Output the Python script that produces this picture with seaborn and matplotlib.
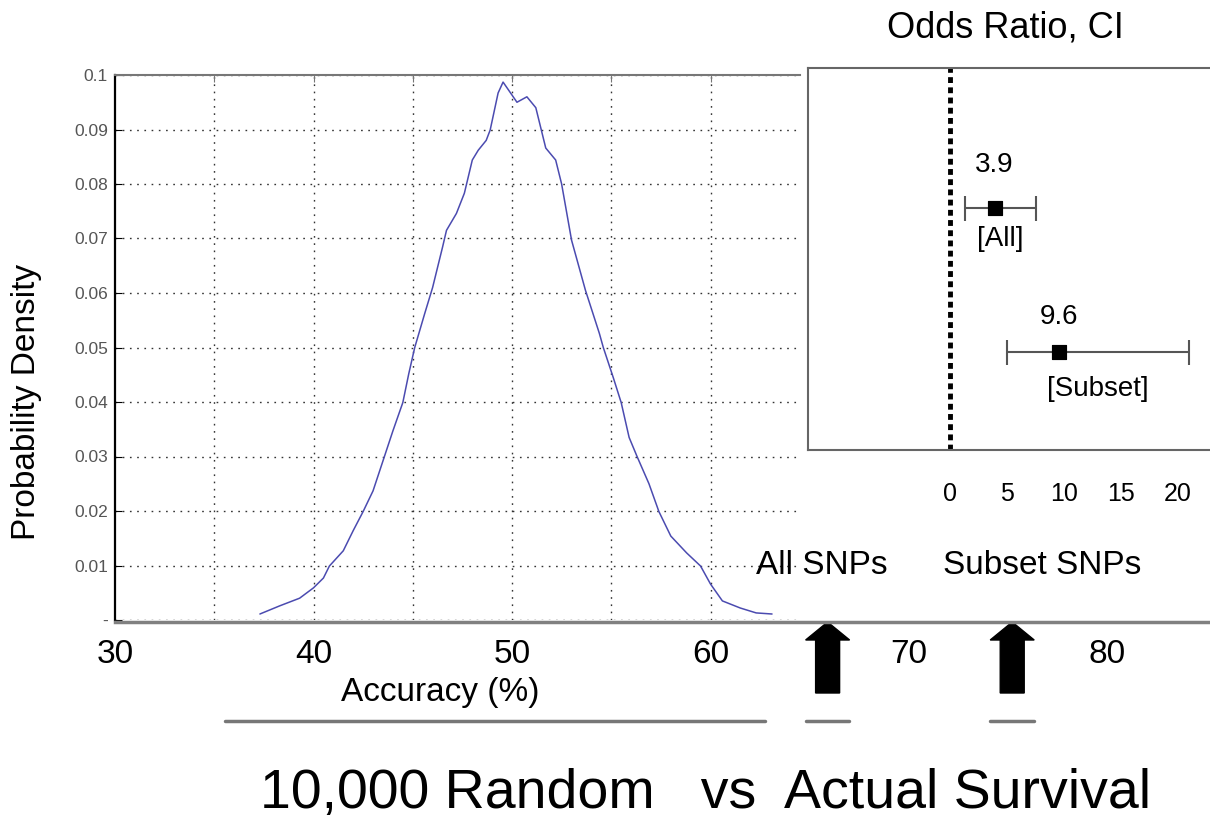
import numpy as np
import pandas as pd
import matplotlib
matplotlib.use("Agg")
import matplotlib.pyplot as plt
import matplotlib.transforms as mtransforms
from matplotlib.patches import FancyArrow
from matplotlib.lines import Line2D
import seaborn as sns

# density of accuracy over the 10,000 random runs
acc = [37.3, 38.3, 39.3, 40.0, 40.5, 40.8, 41.5, 42.0, 42.5, 43.0, 43.5, 44.0,
       44.5, 44.8, 45.1, 45.6, 46.0, 46.5, 46.7, 47.2, 47.6, 48.0, 48.3, 48.7,
       48.9, 49.3, 49.55, 50.25, 50.75, 51.2, 51.7, 52.2, 52.5, 53.0, 53.7, 54.4,
       54.6, 55.1, 55.5, 55.9, 56.3, 56.9, 57.4, 58.0, 58.8, 59.5, 60.0, 60.6,
       61.5, 62.3, 63.1]
dens = [0.0011, 0.0026, 0.0040, 0.0059, 0.0077, 0.0099, 0.0127, 0.0164, 0.0199,
        0.0237, 0.0292, 0.0347, 0.0399, 0.0452, 0.0500, 0.0562, 0.0610, 0.0684,
        0.0715, 0.0746, 0.0783, 0.0844, 0.0862, 0.0880, 0.0899, 0.0967, 0.0987,
        0.0950, 0.0960, 0.0940, 0.0866, 0.0844, 0.0800, 0.0697, 0.0605, 0.0526,
        0.0500, 0.0445, 0.0399, 0.0335, 0.0300, 0.0250, 0.0199, 0.0154, 0.0123,
        0.0099, 0.0066, 0.0035, 0.0022, 0.0013, 0.0011]

ytick_vals = [0, 0.01, 0.02, 0.03, 0.04, 0.05, 0.06, 0.07, 0.08, 0.09, 0.1]
ytick_labels = ['-', '0.01', '0.02', '0.03', '0.04', '0.05', '0.06', '0.07',
                '0.08', '0.09', '0.1']
grid_x = [35, 40, 45, 50, 55, 60]
bottom_ticks = [30, 40, 50, 60, 70, 80]

# accuracy of the actual survival models
snp_sets = ['All SNPs', 'Subset SNPs']
snp_acc = [65.9, 75.2]

# odds ratios with confidence intervals
or_groups = ['[All]', '[Subset]']
or_text = ['3.9', '9.6']
or_vals = [3.9, 9.6]
ci_low = [1.3, 5.0]
ci_high = [7.5, 21.0]
or_row = [0.633, 0.257]
or_ticks = [-10, -5, 0, 5, 10, 15, 20]
or_ticklabels = ['', '', '0', '5', '10', '15', '20']

sns.set_style("white")
plt.rcParams['font.family'] = ['Liberation Sans', 'DejaVu Sans']
plt.rcParams['text.color'] = 'black'
plt.rcParams['xtick.labelcolor'] = 'black'

W, H = 1210, 819
PX = 19.85  # pixels per accuracy unit
fig = plt.figure(figsize=(W / 100, H / 100), dpi=100)


def box(x0, y0, x1, y1):
    return [x0 / W, 1 - y1 / H, (x1 - x0) / W, (y1 - y0) / H]


# main density panel
ax = fig.add_axes(box(115, 75, 800, 620))
df = pd.DataFrame({'acc': acc, 'dens': dens})
sns.lineplot(data=df, x='acc', y='dens', ax=ax, color='#4b4bb0', lw=1.1)
ax.set_xlim(30, 30 + 685 / PX)
ax.set_ylim(0, 0.1)
ax.set_xticks(grid_x)
ax.set_yticks(ytick_vals)
ax.set_yticklabels(ytick_labels)
ax.grid(True, ls=(0, (1.2, 4)), color='#333333', lw=1)
ax.set_xlabel('')
ax.set_ylabel('')
for s in ['right', 'bottom']:
    ax.spines[s].set_visible(False)
ax.spines['left'].set_color('black')
ax.spines['left'].set_linewidth(1.6)
ax.spines['top'].set_color('#777777')
ax.spines['top'].set_linewidth(1.5)
ax.tick_params(axis='x', bottom=False, top=True, direction='in', length=5,
               labelbottom=False, color='#777777')
ax.tick_params(axis='y', left=True, direction='in', length=5, labelsize=12.5,
               labelcolor='#555555', pad=5, color='black')

# long bottom axis
axb = fig.add_axes(box(115, 572, 1210, 622))
axb.patch.set_visible(False)
axb.set_xlim(30, 30 + 1095 / PX)
axb.set_ylim(0, 1)
for s in ['left', 'right', 'top']:
    axb.spines[s].set_visible(False)
axb.spines['bottom'].set_color('#808080')
axb.spines['bottom'].set_linewidth(2.5)
axb.set_xticks(bottom_ticks)
axb.set_yticks([])
axb.tick_params(axis='x', direction='in', length=11, width=1.5, color='#666666',
                labelsize=24, pad=12)

trans = mtransforms.blended_transform_factory(axb.transData, fig.transFigure)
for a in snp_acc:
    arr = FancyArrow(a, 1 - 693 / H, 0, 71 / H, width=24 / PX, head_width=44 / PX,
                     head_length=18 / H, length_includes_head=True,
                     transform=trans, color='black', clip_on=False)
    axb.add_patch(arr)
    axb.plot([a - 1.1, a + 1.1], [1 - 721 / H] * 2, transform=trans,
             clip_on=False, color='#777777', lw=2.5)
fig.add_artist(Line2D([225 / W, 765 / W], [1 - 721 / H] * 2, color='#777777', lw=2.5))

for lab, xp in zip(snp_sets, [822, 1042]):
    fig.text(xp / W, 1 - 565 / H, lab, ha='center', va='center', fontsize=24)

fig.text(440 / W, 1 - 693 / H, 'Accuracy (%)', ha='center', va='center', fontsize=24)
fig.text(27 / W, 1 - 402 / H, 'Probability Density', rotation=90, ha='center',
         va='center', fontsize=24)

# odds ratio inset
axi = fig.add_axes(box(808, 68, 1215, 450))
axi.set_facecolor('white')
axi.set_xlim(-12.46, -12.46 + 407 / 11.4)
axi.set_ylim(0, 1)
axi.axvline(0, color='black', lw=3.5, ls=(0, (1.2, 0.9)))
xerr = [np.subtract(or_vals, ci_low), np.subtract(ci_high, or_vals)]
axi.errorbar(or_vals, or_row, xerr=xerr, fmt='none', ecolor='#555555',
             elinewidth=1.5, capsize=9, capthick=1.5)
sns.scatterplot(x=or_vals, y=or_row, marker='s', s=110, color='black',
                edgecolor='black', ax=axi, zorder=3)
for v, lo, hi, r, t, g, dt, dg in zip(or_vals, ci_low, ci_high, or_row, or_text,
                                      or_groups, [31, 25], [22, 27]):
    axi.annotate(t, (v, r), xytext=(0, dt), textcoords='offset points',
                 ha='center', va='center', fontsize=20)
    axi.annotate(g, ((lo + hi) / 2, r), xytext=(0, -dg), textcoords='offset points',
                 ha='center', va='center', fontsize=20)
axi.set_xticks(or_ticks)
axi.set_xticklabels(or_ticklabels)
axi.set_yticks([])
axi.spines['right'].set_visible(False)
for s in ['left', 'top', 'bottom']:
    axi.spines[s].set_color('#666666')
    axi.spines[s].set_linewidth(1.5)
axi.tick_params(axis='x', direction='in', length=9, width=1.5, color='#666666',
                labelsize=18, pad=23)

fig.text(1005 / W, 1 - 28 / H, 'Odds Ratio, CI', ha='center', va='center', fontsize=26)
fig.text(706 / W, 1 - 808 / H, '10,000 Random   vs  Actual Survival', ha='center',
         va='baseline', fontsize=40)

fig.savefig('out.png', dpi=100)
